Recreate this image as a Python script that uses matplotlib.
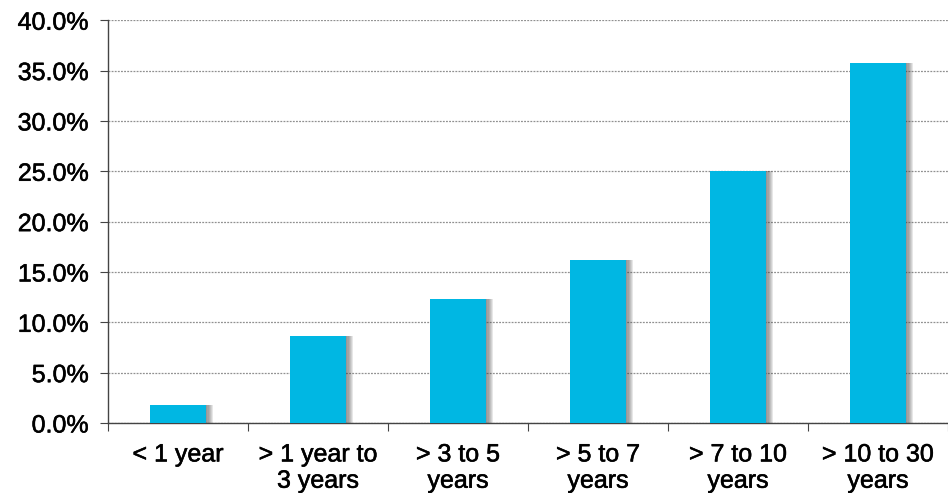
import matplotlib.pyplot as plt
import matplotlib.patheffects as pe
import numpy as np
from matplotlib.ticker import FuncFormatter

categories = ["< 1 year", "> 1 year to\n3 years", "> 3 to 5\nyears",
              "> 5 to 7\nyears", "> 7 to 10\nyears", "> 10 to 30\nyears"]
values = [1.8, 8.6, 12.3, 16.2, 25.0, 35.8]

plt.rcParams['font.family'] = ['Liberation Sans', 'DejaVu Sans']

fig = plt.figure(figsize=(9.48, 4.93), dpi=100)
ax = fig.add_axes([0.114, 0.142, 0.886, 0.817])

x = np.arange(len(values))
width = 0.4

# soft shadow to the right of each bar
for off in np.linspace(0.01, 0.05, 6):
    ax.bar(x + off, values, width=width, color='#404040', alpha=0.12,
           linewidth=0, zorder=2)
ax.bar(x, values, width=width, color='#00B7E3', linewidth=0, zorder=3)

ax.set_xlim(-0.5, len(values) - 0.5)
ax.set_ylim(0, 40)
ax.set_yticks(np.arange(0, 41, 5))
ax.yaxis.set_major_formatter(FuncFormatter(lambda v, p: f"{v:.1f}%"))
ax.yaxis.grid(True, linestyle=(0, (1.5, 1)), color='#909090', linewidth=0.9)
ax.set_axisbelow(True)

# category boundaries as tick marks, labels at centers
ax.set_xticks(np.arange(-0.5, len(values), 1))
ax.set_xticklabels([])
ax.set_xticks(x, minor=True)
ax.set_xticklabels(categories, minor=True, linespacing=1.12)
ax.tick_params(axis='x', which='minor', length=0, pad=14, labelsize=18)
ax.tick_params(axis='x', which='major', length=6, color='#444444', direction='out')
ax.tick_params(axis='y', length=6, color='#444444', labelsize=18, pad=8)

# slightly heavier text, like the original
heavy = [pe.withStroke(linewidth=0.4, foreground='black')]
for t in ax.get_xticklabels(minor=True) + ax.get_yticklabels():
    t.set_path_effects(heavy)

for s in ['top', 'right']:
    ax.spines[s].set_visible(False)
for s in ['left', 'bottom']:
    ax.spines[s].set_color('#444444')
    ax.spines[s].set_linewidth(1)

plt.savefig('out.png', dpi=100)
